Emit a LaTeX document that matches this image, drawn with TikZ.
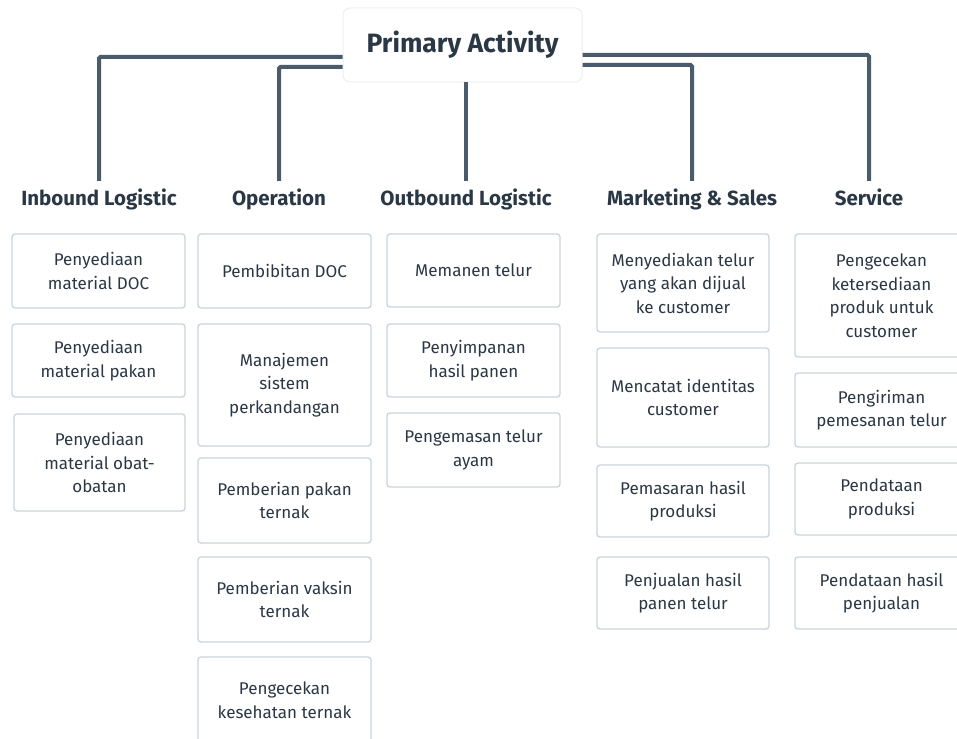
\documentclass[tikz,border=0pt]{standalone}
\usepackage{fontspec}
\setmainfont{Fira Sans}
\definecolor{linec}{HTML}{4A5B6C}
\definecolor{txt}{HTML}{2B3744}
\definecolor{hdr}{HTML}{2A3744}
\definecolor{bord}{HTML}{C8D3DD}
\definecolor{pbord}{HTML}{ECEFF2}
\tikzset{
  item/.style={draw=bord, line width=1.3pt, rounded corners=3pt, fill=white,
    align=center, text=txt, font=\fontsize{17}{23.5}\selectfont, inner sep=4pt},
  hdrnode/.style={text=hdr, font=\fontsize{20.5}{24}\selectfont\bfseries, anchor=base, inner sep=0pt, text height=24pt},
  conn/.style={draw=linec, line width=4pt, rounded corners=1.5pt},
}
\begin{document}
\begin{tikzpicture}[x=1pt,y=-1pt]
\useasboundingbox (0,0) rectangle (957,738);
\clip (0,0) rectangle (957,738);
\fill[white] (0,0) rectangle (957,738);
% headers
\node[hdrnode] (h1) at (99,205) {Inbound Logistic};
\node[hdrnode] (h2) at (279,205) {Operation};
\node[hdrnode] (h3) at (466,205) {Outbound Logistic};
\node[hdrnode] (h4) at (692,205) {Marketing \& Sales};
\node[hdrnode] (h5) at (869,205) {Service};
% primary box
\node[draw=pbord, line width=1pt, rounded corners=7pt, fill=white, minimum width=239pt, minimum height=74pt,
  text=hdr, font=\fontsize{26.5}{30}\selectfont\bfseries, inner sep=0pt] (prim) at (462.5,45) {Primary Activity};
% connectors
\draw[conn] (prim.west |- 0,57) -| (h1.north);
\draw[conn] (prim.west |- 0,67) -| (h2.north);
\draw[conn] (prim.south -| h3.north) -- (h3.north);
\draw[conn] (prim.east |- 0,65) -| (h4.north);
\draw[conn] (prim.east |- 0,55) -| (h5.north);
% column 1
\node[item, minimum width=173pt, minimum height=74pt] (a1) at (98.5,271) {Penyediaan\\material DOC};
\node[item, minimum width=173pt, minimum height=73pt] (a2) at (98.5,360.5) {Penyediaan\\material pakan};
\node[item, minimum width=171pt, minimum height=97pt] (a3) at (99.5,462.5) {Penyediaan\\material obat-\\obatan};
% column 2
\node[item, minimum width=173pt, minimum height=74pt] (b1) at (284.5,271) {Pembibitan DOC};
\node[item, minimum width=173pt, minimum height=122pt] (b2) at (284.5,385) {Manajemen\\sistem\\perkandangan};
\node[item, minimum width=173pt, minimum height=85pt] (b3) at (284.5,500.5) {Pemberian pakan\\ternak};
\node[item, minimum width=173pt, minimum height=85pt] (b4) at (284.5,599.5) {Pemberian vaksin\\ternak};
\node[item, minimum width=173pt, minimum height=86pt] (b5) at (284.5,700) {Pengecekan\\kesehatan ternak};
% column 3
\node[item, minimum width=173pt, minimum height=73pt] (c1) at (473.5,270.5) {Memanen telur};
\node[item, minimum width=173pt, minimum height=73pt] (c2) at (473.5,360.5) {Penyimpanan\\hasil panen};
\node[item, minimum width=173pt, minimum height=74pt] (c3) at (473.5,450) {Pengemasan telur\\ayam};
% column 4
\node[item, minimum width=172pt, minimum height=98pt] (d1) at (683,283) {Menyediakan telur\\yang akan dijual\\ke customer};
\node[item, minimum width=172pt, minimum height=99pt] (d2) at (683,397.5) {Mencatat identitas\\customer};
\node[item, minimum width=172pt, minimum height=72pt] (d3) at (683,501) {Pemasaran hasil\\produksi};
\node[item, minimum width=172pt, minimum height=72pt] (d4) at (683,593) {Penjualan hasil\\panen telur};
% column 5
\node[item, minimum width=173pt, minimum height=123pt] (e1) at (881.5,295.5) {Pengecekan\\ketersediaan\\produk untuk\\customer};
\node[item, minimum width=173pt, minimum height=74pt] (e2) at (881.5,410) {Pengiriman\\pemesanan telur};
\node[item, minimum width=173pt, minimum height=72pt] (e3) at (881.5,499) {Pendataan\\produksi};
\node[item, minimum width=173pt, minimum height=72pt] (e4) at (881.5,593) {Pendataan hasil\\penjualan};
\end{tikzpicture}
\end{document}
